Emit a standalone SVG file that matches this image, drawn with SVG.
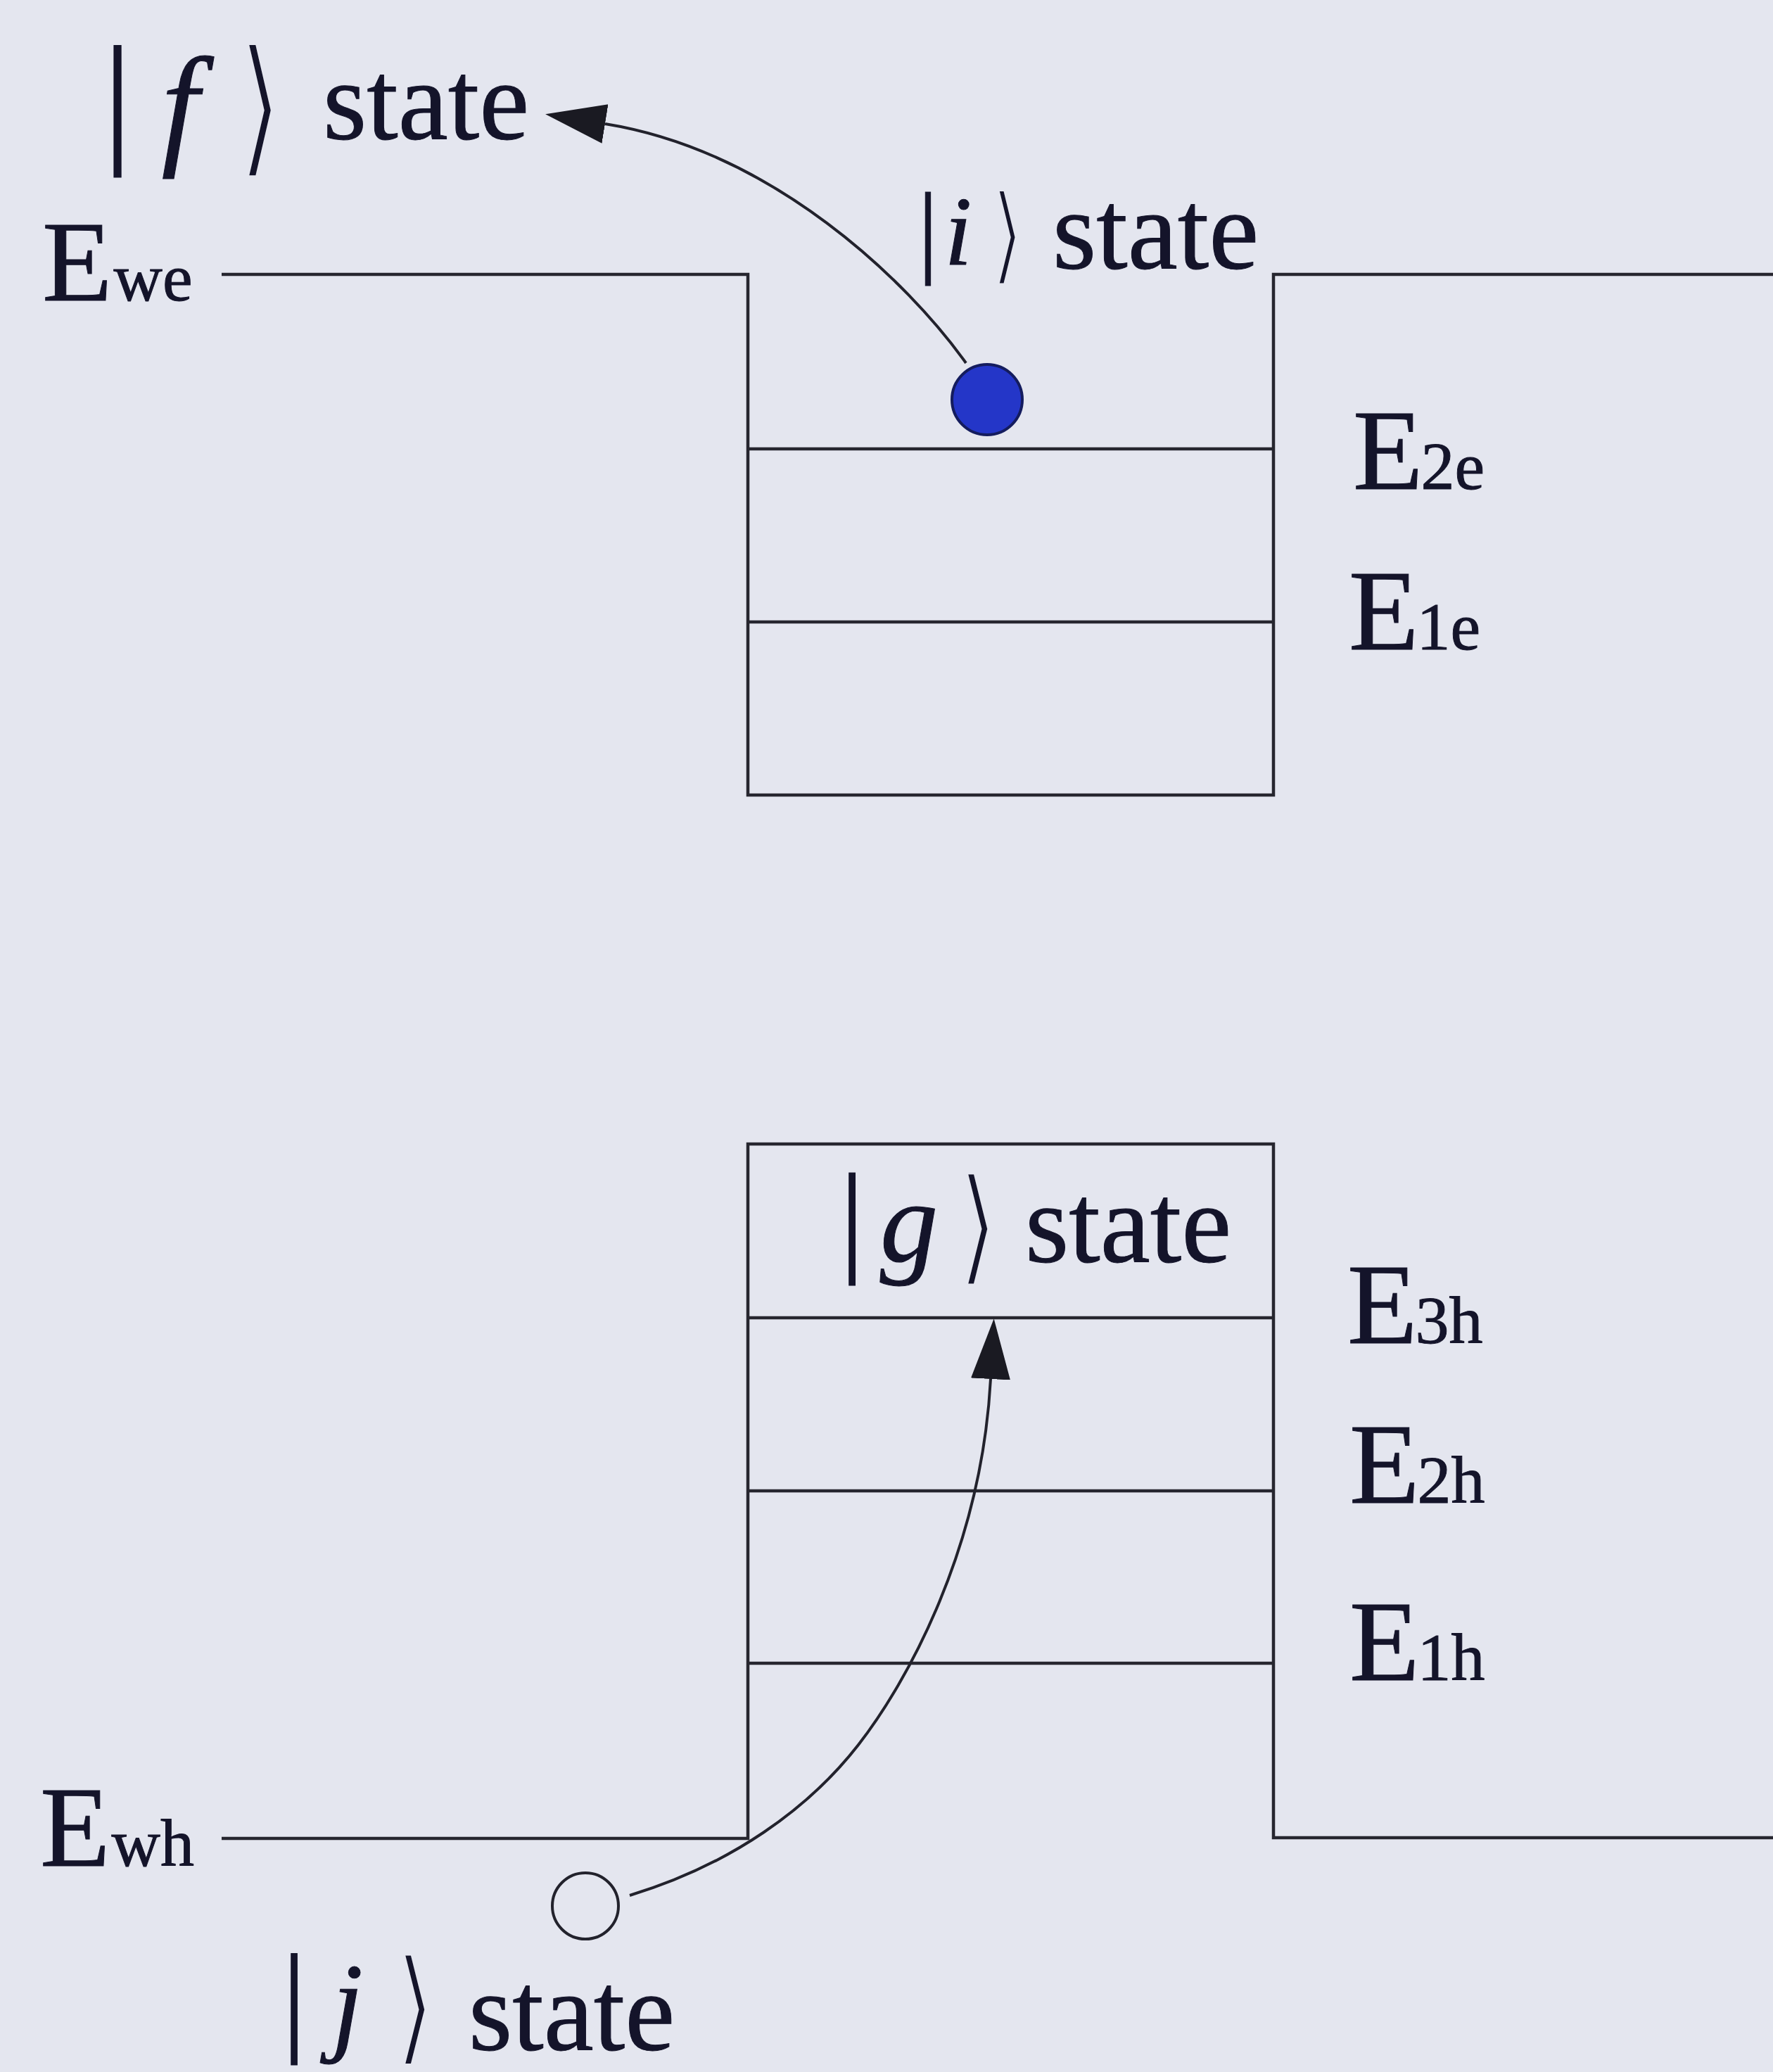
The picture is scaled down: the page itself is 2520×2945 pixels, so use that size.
<svg xmlns="http://www.w3.org/2000/svg" width="2520" height="2945" viewBox="0 0 2520 2945">
<style>
.bg{fill:#E4E6EF}
.ln{fill:none;stroke:#26262f;stroke-width:4.5}
.t{font-family:"Liberation Serif","Times New Roman",serif;fill:#14142a;stroke:#14142a;stroke-width:1}
.st{font-size:160px}
.E{font-size:163px}
.sub{font-size:96px}
.it{font-style:italic}
.ket{font-family:"DejaVu Sans","DejaVu Serif",sans-serif;fill:#14142a;stroke:#E4E6EF;stroke-width:5}
.conn{fill:none;stroke:#22222c;stroke-width:4}
</style>
<defs>
<marker id="ah" markerUnits="userSpaceOnUse" markerWidth="100" markerHeight="70" refX="0" refY="0" viewBox="0 -35 100 70" orient="auto">
<path d="M0,-28 L86,0 L0,28 Z" fill="#1a1a22"/>
</marker>
</defs>
<rect class="bg" x="0" y="0" width="2520" height="2945"/>

<g id="conduction-well">
<path class="ln" d="M315,390 H1063 V1130 H1810 V390 H2520"/>
<line class="ln" x1="1063" y1="638" x2="1810" y2="638"/>
<line class="ln" x1="1063" y1="884" x2="1810" y2="884"/>
</g>

<g id="valence-well">
<path class="ln" d="M315,2613 H1063 V1626 H1810 V2612 H2520"/>
<line class="ln" x1="1063" y1="1873" x2="1810" y2="1873"/>
<line class="ln" x1="1063" y1="2119" x2="1810" y2="2119"/>
<line class="ln" x1="1063" y1="2364" x2="1810" y2="2364"/>
</g>

<g id="label-Ewe"><text class="t E" x="60" y="427">E<tspan class="sub" dx="2">we</tspan></text></g>
<g id="label-Ewh"><text class="t E" x="57" y="2652">E<tspan class="sub" dx="2">wh</tspan></text></g>
<g id="label-E2e"><text class="t E" x="1923" y="695">E<tspan class="sub" dx="-3">2e</tspan></text></g>
<g id="label-E1e"><text class="t E" x="1917" y="923">E<tspan class="sub" dx="-3">1e</tspan></text></g>
<g id="label-E3h"><text class="t E" x="1915" y="1909">E<tspan class="sub" dx="-3">3h</tspan></text></g>
<g id="label-E2h"><text class="t E" x="1918" y="2136">E<tspan class="sub" dx="-3">2h</tspan></text></g>
<g id="label-E1h"><text class="t E" x="1918" y="2388">E<tspan class="sub" dx="-3">1h</tspan></text></g>

<g id="state-f">
<text class="t" x="167" y="208" font-size="205" text-anchor="middle">|</text>
<text class="t it" x="256" y="213" font-size="190" text-anchor="middle">f</text>
<text class="ket" transform="translate(370,224) scale(0.8,1.07)" font-size="200" text-anchor="middle">⟩</text>
<text class="t st" x="459" y="197">state</text>
</g>

<g id="state-i">
<text class="t" x="1319" y="375" font-size="147" text-anchor="middle">|</text>
<text class="t it" x="1362" y="376" font-size="140" text-anchor="middle">i</text>
<text class="ket" transform="translate(1432,385) scale(0.8,1.015)" font-size="150" text-anchor="middle">⟩</text>
<text class="t st" x="1496" y="381">state</text>
</g>

<g id="state-g">
<text class="t" x="1211" y="1789" font-size="176" text-anchor="middle">|</text>
<text class="t it" x="1292" y="1793" font-size="165" text-anchor="middle">g</text>
<text class="ket" transform="translate(1390,1803) scale(0.8,1)" font-size="180" text-anchor="middle">⟩</text>
<text class="t st" x="1457" y="1793">state</text>
</g>

<g id="state-j">
<text class="t" x="418" y="2897" font-size="173" text-anchor="middle">|</text>
<text class="t it" x="494" y="2900" font-size="158" text-anchor="middle">j</text>
<text class="ket" transform="translate(590,2912) scale(0.8,0.99)" font-size="180" text-anchor="middle">⟩</text>
<text class="t st" x="666" y="2913">state</text>
</g>

<g id="electron">
<circle cx="1403" cy="568" r="50" fill="#2436C8" stroke="#141c5e" stroke-width="4"/>
</g>
<g id="hole">
<circle cx="832" cy="2709" r="47" fill="none" stroke="#22222c" stroke-width="4"/>
</g>

<g id="connectors">
<path class="conn" d="M1373,516 C1290,400 1100,215 860,176" marker-end="url(#ah)"/>
<path class="conn" d="M895,2694 C1040,2650 1150,2570 1220,2480 C1290,2390 1395,2200 1408,1960" marker-end="url(#ah)"/>
</g>
</svg>
